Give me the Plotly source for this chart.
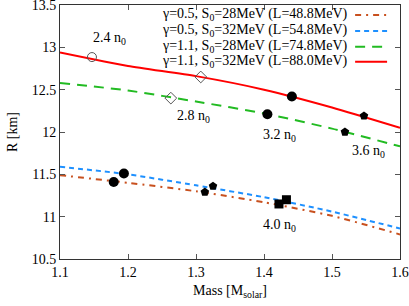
import plotly.graph_objects as go

# Curves (mass in M_solar, radius in km)
mass_grid = [1.1, 1.2, 1.3, 1.4, 1.5, 1.6]
r_g05_s28 = [11.49, 11.40, 11.30, 11.17, 11.01, 10.79]
r_g05_s32 = [11.59, 11.50, 11.37, 11.23, 11.06, 10.86]
r_g11_s28 = [12.58, 12.49, 12.36, 12.22, 12.04, 11.83]
r_g11_s32 = [12.94, 12.78, 12.66, 12.50, 12.29, 12.05]

series_names = [
    "γ=0.5, S<sub>0</sub>=28MeV (L=48.8MeV)",
    "γ=0.5, S<sub>0</sub>=32MeV (L=54.8MeV)",
    "γ=1.1, S<sub>0</sub>=28MeV (L=74.8MeV)",
    "γ=1.1, S<sub>0</sub>=32MeV (L=88.0MeV)",
]
series_colors = ["#c8501e", "#1e90ff", "#22bb22", "#ff0000"]
series_dash = ["6px,5px,2px,5px", "5px,4px", "10px,7px", "solid"]

# Density markers
open_circle_m, open_circle_r = [1.147], [12.885]
open_diamond_m, open_diamond_r = [1.307, 1.263], [12.65, 12.40]
circle_m = [1.441, 1.405, 1.194, 1.179]
circle_r = [12.42, 12.21, 11.51, 11.41]
pent_m = [1.547, 1.519, 1.325, 1.313]
pent_r = [12.19, 12.00, 11.36, 11.29]
square_m = [1.433, 1.422]
square_r = [11.20, 11.15]

label_text = ["2.4 n<sub>0</sub>", "2.8 n<sub>0</sub>", "3.2 n<sub>0</sub>", "3.6 n<sub>0</sub>", "4.0 n<sub>0</sub>"]
label_m = [1.1735, 1.296, 1.4235, 1.554, 1.4235]
label_r = [13.10, 12.18, 11.96, 11.77, 10.90]

FONT = "Liberation Serif, Times New Roman, serif"
FS = 14

fig = go.Figure()
all_r = [r_g05_s28, r_g05_s32, r_g11_s28, r_g11_s32]
for name, r, c, d in zip(series_names, all_r, series_colors, series_dash):
    fig.add_trace(go.Scatter(x=mass_grid, y=r, mode="lines", name=name,
                             line=dict(color=c, width=2, dash=d, shape="spline", smoothing=0.6),
                             showlegend=False))

fig.add_trace(go.Scatter(x=open_circle_m, y=open_circle_r, mode="markers", showlegend=False,
                         marker=dict(symbol="circle-open", size=9, color="#555555", line=dict(width=1))))
fig.add_trace(go.Scatter(x=open_diamond_m, y=open_diamond_r, mode="markers", showlegend=False,
                         marker=dict(symbol="diamond-open", size=9, color="#555555", line=dict(width=1))))
fig.add_trace(go.Scatter(x=circle_m, y=circle_r, mode="markers", showlegend=False,
                         marker=dict(symbol="circle", size=10, color="black")))
fig.add_trace(go.Scatter(x=pent_m, y=pent_r, mode="markers", showlegend=False,
                         marker=dict(symbol="pentagon", size=9, color="black")))
fig.add_trace(go.Scatter(x=square_m, y=square_r, mode="markers", showlegend=False,
                         marker=dict(symbol="square", size=9, color="black")))

for t, m, r in zip(label_text, label_m, label_r):
    fig.add_annotation(x=m, y=r, text=t, showarrow=False,
                       font=dict(family=FONT, size=FS, color="black"))

# Manual legend (text on left, sample on right)
leg_y = [0.961, 0.898, 0.836, 0.777]
for name, c, d, yy in zip(series_names, series_colors, series_dash, leg_y):
    fig.add_annotation(xref="paper", yref="paper", x=0.853, y=yy, text=name,
                       showarrow=False, xanchor="right", yanchor="middle",
                       font=dict(family=FONT, size=FS, color="black"))
    fig.add_shape(type="line", xref="paper", yref="paper", x0=0.868, x1=0.962, y0=yy, y1=yy,
                  line=dict(color=c, width=2, dash=d))

axis_common = dict(showgrid=False, zeroline=False, showline=True, linecolor="#333333", linewidth=1,
                   mirror="ticks", ticks="inside", ticklen=5, tickcolor="#555555", automargin=False,
                   ticklabeloverflow="allow",
                   tickfont=dict(family=FONT, size=FS, color="black"))

fig.update_layout(
    width=409, height=306,
    margin=dict(l=60, r=9, t=5, b=47),
    paper_bgcolor="white", plot_bgcolor="white",
    xaxis=dict(range=[1.1, 1.6], dtick=0.1, tickformat=".1f",
               title=dict(text="Mass [M<sub>solar</sub>]", font=dict(family=FONT, size=FS, color="black"), standoff=6),
               **axis_common),
    yaxis=dict(range=[10.5, 13.5], dtick=0.5,
               title=dict(text="R [km]", font=dict(family=FONT, size=FS, color="black"), standoff=10),
               **axis_common),
)

fig.write_html("out.html", config={"displayModeBar": False},
               post_script="document.body.style.margin='0';document.body.style.overflow='hidden';")
